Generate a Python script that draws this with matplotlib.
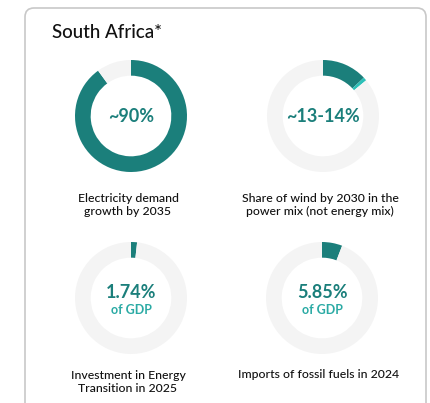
import matplotlib.pyplot as plt
from matplotlib.patches import FancyBboxPatch

plt.rcParams['font.family'] = ['Lato', 'DejaVu Sans']

W, H = 430, 403

# data
title = "South Africa*"
values = [90, 13, 1.74, 5.85]
extra = [0, 1, 0, 0]          # range part (13 -> 14)
main_labels = ["~90%", "~13-14%", "1.74%", "5.85%"]
sub_labels = ["", "", "of GDP", "of GDP"]
captions = ["Electricity demand\ngrowth by 2035",
            "Share of wind by 2030 in the\npower mix (not energy mix)",
            "Investment in Energy\nTransition in 2025",
            "Imports of fossil fuels in 2024"]

dark = '#1b7f7b'
light = '#2cc0b8'
track = '#f4f4f4'

fig = plt.figure(figsize=(W / 100, H / 100), dpi=100)
bg = fig.add_axes([0, 0, 1, 1])
bg.set_xlim(0, W)
bg.set_ylim(H, 0)
bg.axis('off')

card = FancyBboxPatch((25, 8), 401, 420, boxstyle="round,pad=0,rounding_size=9",
                      fc='white', ec='#c8c8c8', lw=1.2)
bg.add_patch(card)
bg.text(52, 33, title, fontsize=13.5, fontweight='medium', color='#111111',
        va='center', ha='left')

centers = [(131, 116), (323, 116), (131, 298), (322, 298)]
cap_y = [205, 205, 382, 375]
R = 56

for i, (cx, cy) in enumerate(centers):
    ax = fig.add_axes([(cx - R) / W, 1 - (cy + R) / H, 2 * R / W, 2 * R / H])
    v, e = values[i], extra[i]
    sizes = [v, e, 100 - v - e]
    ax.pie(sizes, colors=[dark, light, track], startangle=90, counterclock=False,
           radius=1.0, wedgeprops=dict(width=0.28, linewidth=0))
    ax.set_aspect('equal')
    ax.set_xlim(-1, 1)
    ax.set_ylim(-1, 1)
    if sub_labels[i]:
        ax.text(0, 0.1, main_labels[i], ha='center', va='center', fontsize=13,
                fontweight='bold', color=dark)
        ax.text(0, -0.22, sub_labels[i], ha='center', va='center', fontsize=9,
                fontweight='bold', color='#2aaaa4')
    else:
        ax.text(0, 0, main_labels[i], ha='center', va='center', fontsize=13,
                fontweight='bold', color=dark)
    bg.text(cx - 3, cap_y[i], captions[i], ha='center', va='center', fontsize=8.8,
            fontweight='medium', color='#111111', linespacing=1.3)

fig.savefig('out.png', dpi=100)
